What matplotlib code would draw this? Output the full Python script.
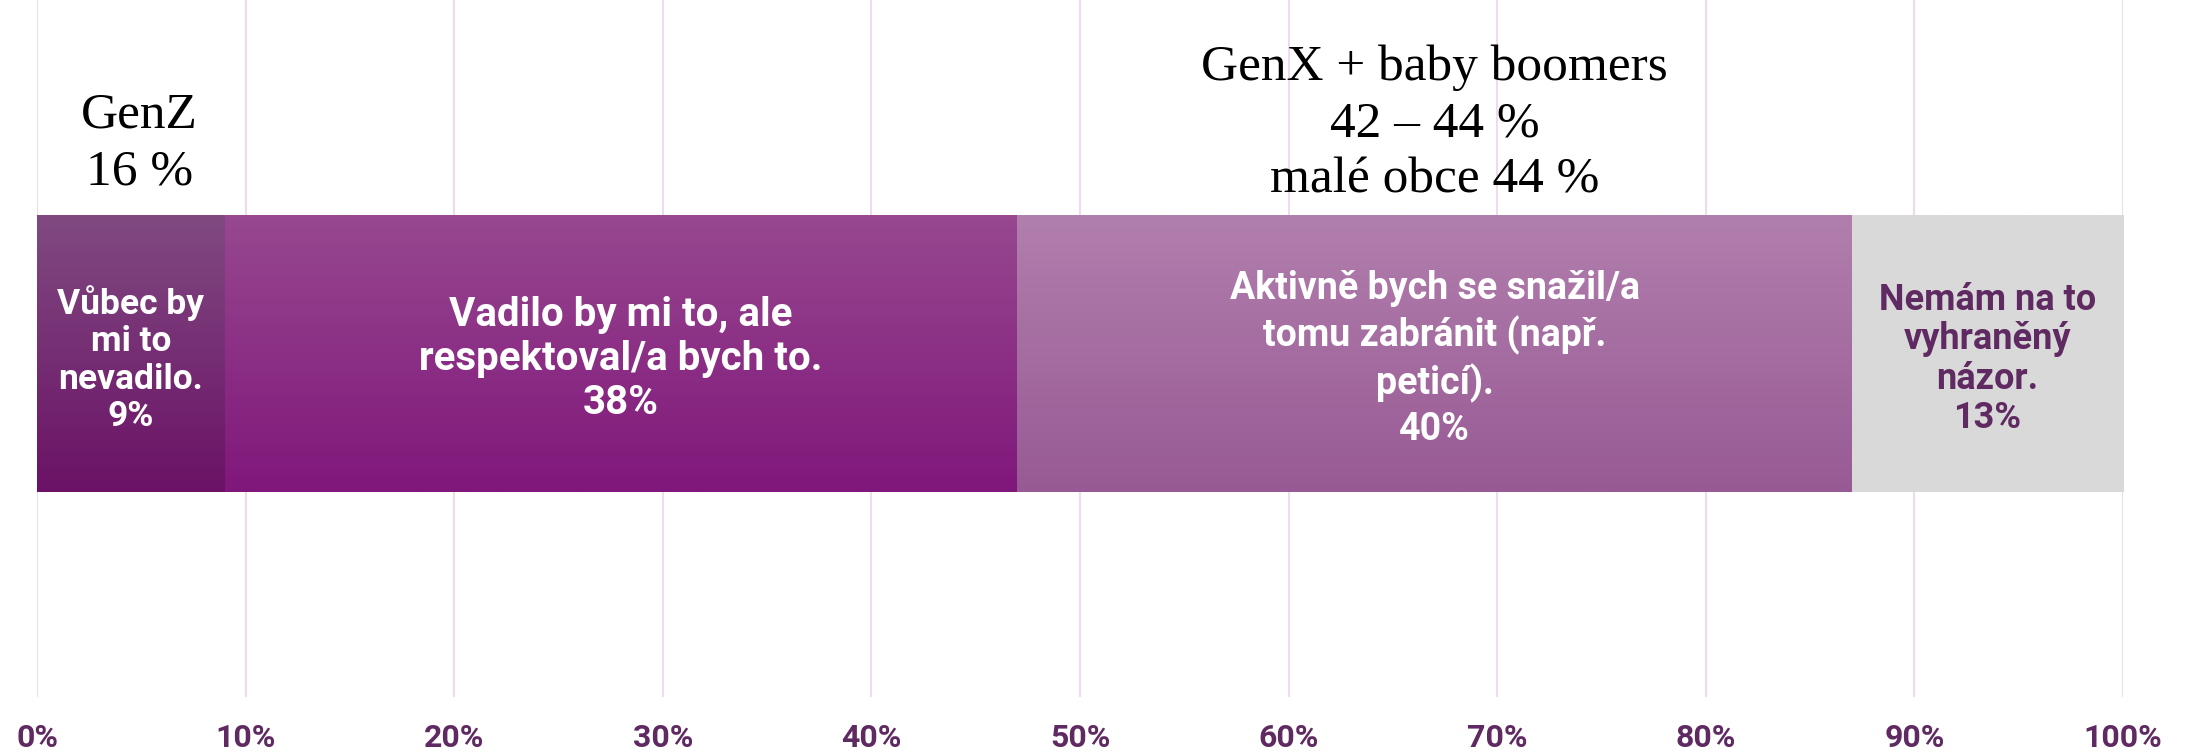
import numpy as np
import matplotlib
matplotlib.use("Agg")
import matplotlib.pyplot as plt
from matplotlib.colors import LinearSegmentedColormap

# ---- data ----
categories = [
    "Vůbec by\nmi to\nnevadilo.",
    "Vadilo by mi to, ale\nrespektoval/a bych to.",
    "Aktivně bych se snažil/a\ntomu zabránit (např.\npeticí).",
    "Nemám na to\nvyhraněný\nnázor.",
]
values = [9, 38, 40, 13]
ticks = list(range(0, 101, 10))
tick_labels = [f"{t}%" for t in ticks]
note_genz = "GenZ\n16 %"
note_genx = "GenX + baby boomers\n42 – 44 %\nmalé obce 44 %"

# ---- style ----
grad_top = ["#804a81", "#97488f", "#b17fad", "#d9d9d9"]
grad_bot = ["#6b1266", "#80177b", "#985a94", "#d9d9d9"]
text_colors = ["white", "white", "white", "#5f2a62"]
text_sizes = [25.5, 29, 27, 26]
text_spacing = [1.17, 1.19, 1.28, 1.12]
seg_font = ["Roboto", "DejaVu Sans"]
label_color = "#5f2a62"
grid_color = "#eedcee"

W, H = 2188, 754
fig = plt.figure(figsize=(W / 100, H / 100), dpi=100)
ax = fig.add_axes([37 / W, 57 / H, 2086 / W, 697 / H])

bar_y = 0.4928
bar_h = 0.3974
lefts = np.concatenate([[0], np.cumsum(values)[:-1]])
bars = ax.barh([bar_y] * len(values), values, left=lefts, height=bar_h,
               color="none", edgecolor="none", zorder=2)

grad = np.linspace(0, 1, 256).reshape(-1, 1)
for i, b in enumerate(bars):
    cmap = LinearSegmentedColormap.from_list(f"g{i}", [grad_bot[i], grad_top[i]])
    x0, y0, w, h = b.get_x(), b.get_y(), b.get_width(), b.get_height()
    ax.imshow(grad, extent=[x0, x0 + w, y0, y0 + h], origin="lower",
              aspect="auto", cmap=cmap, zorder=2, interpolation="bilinear")
    txt = categories[i] + f"\n{values[i]}%"
    ax.text(x0 + w / 2, y0 + h / 2 - 0.008, txt, ha="center", va="center",
            color=text_colors[i], fontsize=text_sizes[i], fontweight="bold",
            family=seg_font, linespacing=text_spacing[i], zorder=3)

# annotations above bars
ax.text(4.9, 0.794, note_genz, ha="center", va="center", fontsize=37,
        family=["Liberation Serif", "DejaVu Serif"], color="black",
        linespacing=1.28, zorder=3)
ax.text(lefts[2] + values[2] / 2, 0.822, note_genx, ha="center", va="center",
        fontsize=37, family=["Liberation Serif", "DejaVu Serif"], color="black",
        linespacing=1.28, zorder=3)

ax.set_xlim(0, 100)
ax.set_ylim(0, 1)
ax.set_xticks(ticks, tick_labels)
for lab in ax.get_xticklabels():
    lab.set_fontsize(23)
    lab.set_fontweight("bold")
    lab.set_color(label_color)
    lab.set_family(["Roboto", "DejaVu Sans"])
ax.tick_params(axis="x", length=0, pad=19)
ax.set_yticks([])
for s in ax.spines.values():
    s.set_visible(False)
for t in ticks:
    ax.axvline(t, color=grid_color, lw=1.5, zorder=1)

fig.savefig("out.png", dpi=100)
